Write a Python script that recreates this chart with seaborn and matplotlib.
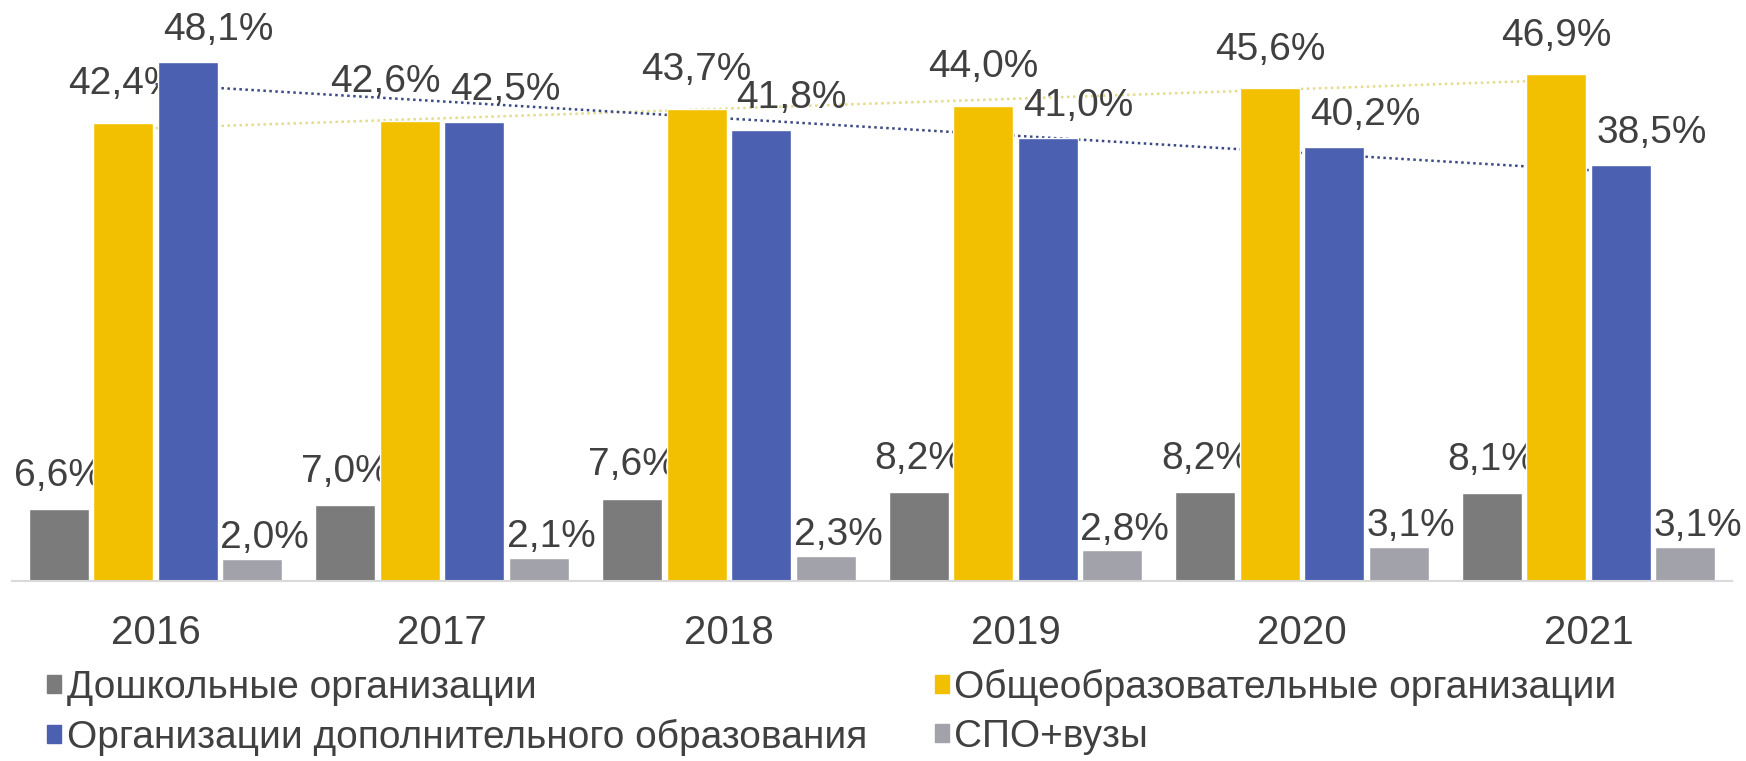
import matplotlib
matplotlib.use('Agg')
import matplotlib.pyplot as plt
import matplotlib.patches as mpatches
import seaborn as sns
import pandas as pd
import numpy as np

years = ['2016', '2017', '2018', '2019', '2020', '2021']
series = ['Дошкольные организации',
          'Общеобразовательные организации',
          'Организации дополнительного образования',
          'СПО+вузы']
preschool = [6.6, 7.0, 7.6, 8.2, 8.2, 8.1]
general = [42.4, 42.6, 43.7, 44.0, 45.6, 46.9]
additional = [48.1, 42.5, 41.8, 41.0, 40.2, 38.5]
college = [2.0, 2.1, 2.3, 2.8, 3.1, 3.1]
colors = ['#7b7b7b', '#f3c000', '#4b60b0', '#a2a2aa']

rows = []
for name, vals in zip(series, [preschool, general, additional, college]):
    for y, v in zip(years, vals):
        rows.append({'year': y, 'series': name, 'value': v})
df = pd.DataFrame(rows)

sns.set_style('white')
plt.rcParams['font.family'] = ['Liberation Sans', 'DejaVu Sans']

fig = plt.figure(figsize=(17.46, 7.61), dpi=100)
ax = fig.add_axes([0.007, 0.237, 0.985, 0.763])

# linear trend lines (drawn behind the bars, like the Excel trendlines)
xs = np.arange(len(years))
for vals, c in [(general, '#e3dc8c'), (additional, '#3a4883')]:
    k, b = np.polyfit(xs, vals, 1)
    ax.plot(xs, k * xs + b, linestyle=(0, (1, 1.4)), color=c, lw=1.8, zorder=1)

sns.barplot(data=df, x='year', y='value', hue='series', hue_order=series,
            palette=colors, width=0.9, gap=0.07, ax=ax, legend=False,
            saturation=1, zorder=2)

# value labels: per-series offsets in points (dx, dy to label centre)
offsets = [(0, 24), (0, 28), (22, 23), (9, 15)]
nudge = {(1, 1): -18}
for si, (cont, name) in enumerate(zip(ax.containers, series)):
    vals = df[df['series'] == name]['value'].tolist()
    for yi, (bar, v) in enumerate(zip(cont, vals)):
        dx, dy = offsets[si]
        dx += nudge.get((si, yi), 0)
        ax.annotate(f'{v:.1f}%'.replace('.', ','),
                    (bar.get_x() + bar.get_width() / 2, bar.get_height()),
                    xytext=(dx, dy), textcoords='offset points',
                    ha='center', va='center', fontsize=28, color='#404040',
                    zorder=1.5)

ax.set_ylim(0, 53.8)
ax.set_xlim(-0.5, 5.5)
ax.set_xlabel('')
ax.set_ylabel('')
ax.set_yticks([])
for s in ['top', 'right', 'left']:
    ax.spines[s].set_visible(False)
ax.spines['bottom'].set_color('#d9d9d9')
ax.spines['bottom'].set_linewidth(1.5)
ax.tick_params(axis='x', length=0, pad=24, labelsize=29, labelcolor='#404040')

handles = [mpatches.Patch(color=c, label=n) for c, n in zip(colors, series)]
order = [0, 2, 1, 3]
fig.legend([handles[i] for i in order], [series[i] for i in order],
           loc='center left', bbox_to_anchor=(0.027, 0.064), ncol=2,
           frameon=False, fontsize=28, handlelength=0.35, handleheight=0.35,
           handletextpad=0.15, columnspacing=1.75, labelspacing=0.33,
           borderpad=0, borderaxespad=0, labelcolor='#404040')

fig.savefig('out.png', dpi=100)
